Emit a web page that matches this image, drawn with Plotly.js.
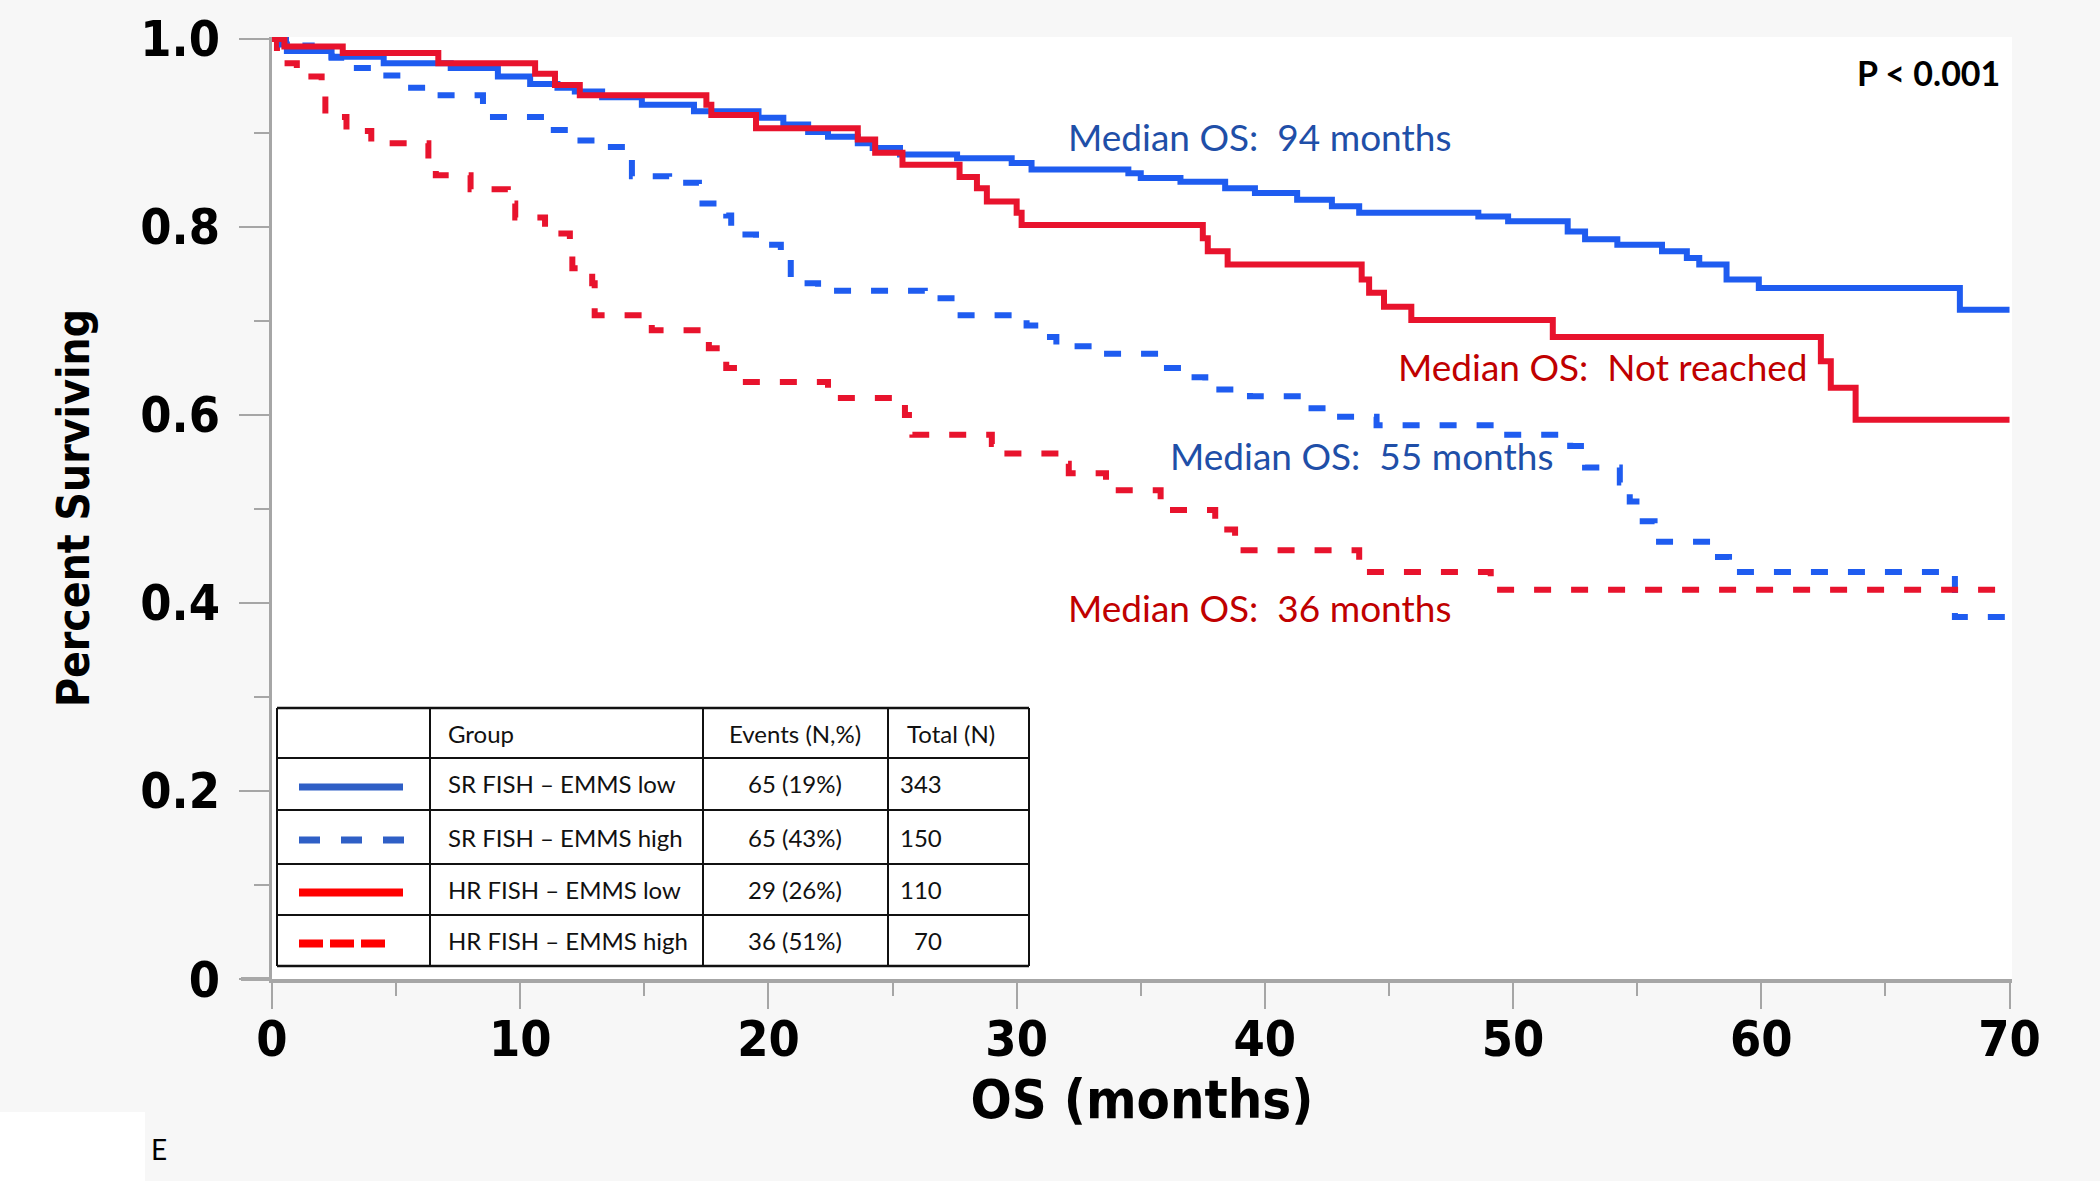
<!DOCTYPE html>
<html>
<head>
<meta charset="utf-8">
<script src="https://cdn.plot.ly/plotly-3.0.1.min.js"></script>
<style>html,body{margin:0;padding:0;background:#f7f7f7;}#chart{width:2100px;height:1181px;}</style>
</head>
<body>
<div id="chart"></div>
<script>
// ---- Data ----
const srLowT  = [0,0.4,0.6,2.4,4.5,7.2,9.1,10.4,11.5,12.2,13.3,14.9,17.0,19.6,20.6,21.6,22.4,23.6,24.2,25.3,27.6,29.8,30.6,34.5,35.0,36.6,38.4,39.6,41.3,42.7,43.8,48.6,49.8,52.2,52.9,54.2,56.0,57.0,57.5,58.6,59.9,68.0,70];
const srLowS  = [1.0,0.994,0.987,0.981,0.974,0.969,0.960,0.952,0.948,0.944,0.938,0.930,0.923,0.916,0.909,0.901,0.896,0.889,0.884,0.877,0.873,0.868,0.861,0.857,0.852,0.848,0.841,0.836,0.829,0.822,0.815,0.811,0.806,0.795,0.787,0.781,0.774,0.767,0.760,0.744,0.735,0.712,0.712];

const srHighT = [0,0.8,1.6,2.4,3.1,4.2,5.2,6.4,8.5,11.0,12.1,13.2,14.5,16.0,17.2,18.3,18.5,19.5,20.5,20.9,22.0,26.3,27.6,30.4,31.2,31.6,33.4,35.9,36.9,37.6,39.4,41.5,42.7,44.5,49.6,52.3,52.9,54.3,54.7,55.1,55.7,58.1,58.7,67.8,70];
const srHighS = [1.0,0.993,0.987,0.980,0.969,0.961,0.948,0.940,0.917,0.903,0.892,0.885,0.854,0.847,0.825,0.812,0.792,0.781,0.765,0.740,0.732,0.724,0.706,0.695,0.683,0.673,0.665,0.650,0.640,0.627,0.620,0.607,0.598,0.589,0.579,0.567,0.544,0.528,0.508,0.487,0.465,0.449,0.433,0.385,0.385];

const hrLowT  = [0,0.5,2.85,6.7,10.6,11.4,12.4,17.5,17.7,19.5,23.6,24.3,25.4,27.7,28.4,28.8,30.0,30.2,37.5,37.7,38.5,43.9,44.2,44.8,45.9,51.6,62.4,62.8,63.8,70];
const hrLowS  = [1.0,0.992,0.985,0.974,0.963,0.951,0.940,0.930,0.919,0.905,0.893,0.879,0.866,0.853,0.841,0.827,0.815,0.802,0.788,0.774,0.760,0.744,0.730,0.715,0.701,0.683,0.657,0.629,0.595,0.595];

const hrHighT = [0,0.2,1.0,2.0,2.15,3.0,4.0,6.3,6.6,8.0,9.5,9.8,11.0,12.0,12.1,12.9,13.0,15.3,17.6,18.3,18.8,22.4,22.7,25.5,25.8,29.0,29.4,31.9,32.1,33.6,33.9,35.8,36.1,38.0,38.2,38.8,43.8,44.0,49.1,70];
const hrHighS = [1.0,0.974,0.960,0.943,0.917,0.902,0.889,0.871,0.855,0.840,0.825,0.810,0.793,0.775,0.756,0.740,0.706,0.690,0.671,0.650,0.635,0.627,0.618,0.600,0.579,0.569,0.559,0.548,0.538,0.528,0.520,0.510,0.499,0.489,0.478,0.456,0.445,0.433,0.414,0.414];

const groupNames = ['SR FISH \u2013 EMMS low','SR FISH \u2013 EMMS high','HR FISH \u2013 EMMS low','HR FISH \u2013 EMMS high'];
const eventsN   = [65,65,29,36];
const eventsPct = [19,43,26,51];
const totalsN   = [343,150,110,70];
const tableHeaders = ['Group','Events (N,%)','Total (N)'];

const xTickVals = [0,10,20,30,40,50,60,70];
const yTickVals = [0,0.2,0.4,0.6,0.8,1.0];
const yTickText = ['0','0.2','0.4','0.6','0.8','1.0'];

const medianLabels = ['Median OS:\u00a0 94 months','Median OS:\u00a0 55 months','Median OS:\u00a0 Not reached','Median OS:\u00a0 36 months'];
const pValueText = 'P < 0.001';
const panelLetter = 'E';

// ---- Styles / geometry ----
const W = 2100, H = 1181;
const M = {l:272, r:88, t:37, b:202};
const PW = W - M.l - M.r, PH = H - M.t - M.b;
const px2x = p => (p - M.l) / PW;
const py2y = p => (H - M.b - p) / PH;

const BLUE = '#1f5cf0', RED = '#e8132d';
const LEG_BLUE = '#2f5fc6', LEG_RED = '#ff0000';
const lineStyles = [
  {color: BLUE, width: 6, dash: 'solid'},
  {color: BLUE, width: 6, dash: '17px,20px'},
  {color: RED,  width: 6, dash: 'solid'},
  {color: RED,  width: 6, dash: '17px,20px'}
];
const series = [[srLowT,srLowS],[srHighT,srHighS],[hrLowT,hrLowS],[hrHighT,hrHighS]];
const drawOrder = [1,3,0,2];

const traces = drawOrder.map(i => ({
  type: 'scatter', mode: 'lines',
  x: series[i][0], y: series[i][1],
  name: groupNames[i],
  line: {shape: 'hv', color: lineStyles[i].color, width: lineStyles[i].width, dash: lineStyles[i].dash},
  showlegend: false, hoverinfo: 'skip'
}));

const shapes = [];
const annotations = [];

// Table geometry (pixels)
const tL = 277, tR = 1029;
const colX = [tL, 430, 703, 888, tR];
const rowY = [708, 758, 810, 864, 915, 966];
rowY.forEach((y, k) => shapes.push({type:'line', xref:'paper', yref:'paper', x0:px2x(tL), x1:px2x(tR), y0:py2y(y), y1:py2y(y), line:{color:'#111', width: (k===0||k===rowY.length-1)?2.5:2}}));
colX.forEach(x => shapes.push({type:'line', xref:'paper', yref:'paper', x0:px2x(x), x1:px2x(x), y0:py2y(rowY[0]), y1:py2y(rowY[rowY.length-1]), line:{color:'#111', width:2}}));

const tFont = {family:'Lato, "Open Sans", sans-serif', size:24, color:'#111'};
const rowMid = k => (rowY[k] + rowY[k+1]) / 2;
annotations.push({xref:'paper', yref:'paper', x:px2x(446), y:py2y(rowMid(0)), xanchor:'left', yanchor:'middle', text:tableHeaders[0], showarrow:false, font:tFont});
annotations.push({xref:'paper', yref:'paper', x:px2x(795), y:py2y(rowMid(0)), xanchor:'center', yanchor:'middle', text:tableHeaders[1], showarrow:false, font:tFont});
annotations.push({xref:'paper', yref:'paper', x:px2x(905), y:py2y(rowMid(0)), xanchor:'left', yanchor:'middle', text:tableHeaders[2], showarrow:false, font:tFont});
groupNames.forEach((g, i) => {
  const ym = py2y(rowMid(i+1));
  annotations.push({xref:'paper', yref:'paper', x:px2x(446), y:ym, xanchor:'left', yanchor:'middle', text:g, showarrow:false, font:tFont});
  annotations.push({xref:'paper', yref:'paper', x:px2x(795), y:ym, xanchor:'center', yanchor:'middle', text:eventsN[i] + ' (' + eventsPct[i] + '%)', showarrow:false, font:tFont});
  annotations.push({xref:'paper', yref:'paper', x:px2x(944), y:ym, xanchor:'right', yanchor:'middle', text:String(totalsN[i]), showarrow:false, font:tFont});
});
// legend samples inside table
const sampleStyles = [
  {x0:299, x1:403, color:LEG_BLUE, width:7, dash:'solid'},
  {x0:299, x1:405, color:LEG_BLUE, width:7, dash:'21px,21px'},
  {x0:299, x1:403, color:LEG_RED,  width:8, dash:'solid'},
  {x0:299, x1:386, color:LEG_RED,  width:8, dash:'24px,7px'}
];
sampleStyles.forEach((s, i) => {
  const y = py2y(rowMid(i+1) + 3);
  shapes.push({type:'line', xref:'paper', yref:'paper', x0:px2x(s.x0), x1:px2x(s.x1), y0:y, y1:y, line:{color:s.color, width:s.width, dash:s.dash}});
});

// x-axis line extension to the left of 0
shapes.push({type:'line', xref:'paper', yref:'paper', x0:px2x(241), x1:0, y0:0, y1:0, line:{color:'#a8a8a8', width:4}});
// white box in lower-left corner
shapes.push({type:'rect', xref:'paper', yref:'paper', x0:px2x(0), x1:px2x(145), y0:py2y(1181), y1:py2y(1112), fillcolor:'#ffffff', line:{width:0}, layer:'below'});

// Median labels
const BLUE_TXT = '#1f4fa8', RED_TXT = '#c00000';
const mFont = c => ({family:'Lato, "Open Sans", sans-serif', size:37, color:c});
const medPos = [[1066,137,BLUE_TXT],[1168,455,BLUE_TXT],[1396,366,RED_TXT],[1066,607,RED_TXT]];
medianLabels.forEach((t, i) => annotations.push({xref:'paper', yref:'paper', x:px2x(medPos[i][0]), y:py2y(medPos[i][1]), xanchor:'left', yanchor:'middle', text:t, showarrow:false, font:mFont(medPos[i][2])}));
annotations.push({xref:'paper', yref:'paper', x:px2x(2002), y:py2y(72), xanchor:'right', yanchor:'middle', text:pValueText, showarrow:false, font:{family:'Lato, sans-serif', size:34, color:'#000', weight:'bold'}});
annotations.push({xref:'paper', yref:'paper', x:px2x(149), y:py2y(1149), xanchor:'left', yanchor:'middle', text:panelLetter, showarrow:false, font:{family:'Lato, sans-serif', size:28, color:'#000'}});

const FAM = '"DejaVu Sans Condensed", "DejaVu Sans", Verdana, sans-serif';
const tickFont = {family:FAM, size:50, color:'#000', weight:'bold'};
const AX = '#a6a6a6';

const layout = {
  width: W, height: H,
  margin: M,
  paper_bgcolor: '#f7f7f7', plot_bgcolor: '#ffffff',
  showlegend: false,
  xaxis: {
    range: [0, 70.1], tickvals: xTickVals, ticktext: xTickVals.map(String),
    showgrid:false, zeroline:false, showline:true, linecolor:AX, linewidth:4,
    ticks:'outside', ticklen:26, tickwidth:2, tickcolor:AX,
    minor: {ticks:'outside', dtick:5, tick0:0, ticklen:13, tickwidth:2, tickcolor:AX},
    tickfont: tickFont, ticklabelstandoff: -13,
    title: {text:'OS (months)', font:{family:FAM, size:54, color:'#000', weight:'bold'}, standoff: 10},
    fixedrange:true
  },
  yaxis: {
    range: [0, 1.002], tickvals: yTickVals, ticktext: yTickText,
    showgrid:false, zeroline:false, showline:true, linecolor:AX, linewidth:3,
    ticks:'outside', ticklen:30, tickwidth:2, tickcolor:AX,
    minor: {ticks:'outside', dtick:0.1, tick0:0, ticklen:15, tickwidth:2, tickcolor:AX},
    tickfont: tickFont, ticklabelstandoff: 9,
    title: {text:'Percent Surviving', font:{family:FAM, size:44, color:'#000', weight:'bold'}, standoff: 37},
    fixedrange:true
  },
  shapes: shapes,
  annotations: annotations
};

Plotly.newPlot('chart', traces, layout, {staticPlot:true, displayModeBar:false});
</script>
</body>
</html>
